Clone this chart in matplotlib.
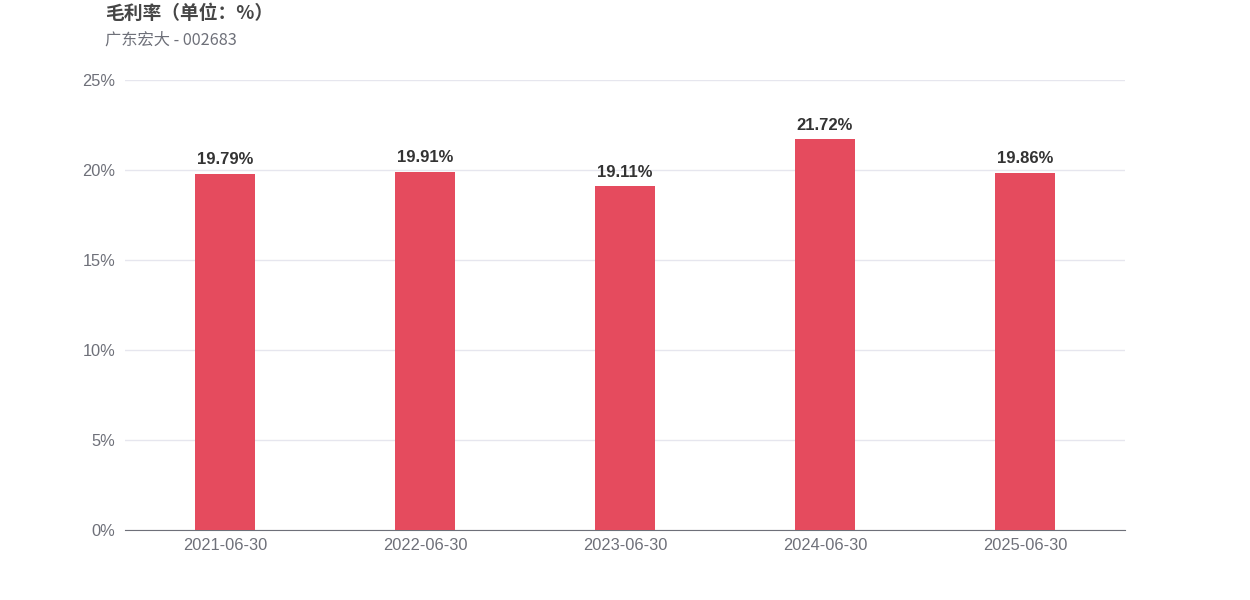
import matplotlib.pyplot as plt

plt.rcParams['font.family'] = ['Liberation Sans', 'Noto Sans CJK SC', 'DejaVu Sans']

dates = ['2021-06-30', '2022-06-30', '2023-06-30', '2024-06-30', '2025-06-30']
margin = [19.79, 19.91, 19.11, 21.72, 19.86]
yticks = [0, 5, 10, 15, 20, 25]

fig = plt.figure(figsize=(12.5, 6), dpi=100)
ax = fig.add_axes([0.1, 0.1167, 0.8, 0.75])

x = list(range(len(dates)))
ax.bar(x, margin, width=0.3, color='#E54B5E', zorder=3)
for i, v in zip(x, margin):
    ax.text(i, v + 0.35, '{:.2f}%'.format(v), ha='center', va='bottom',
            fontsize=12, fontweight='bold', color='#333333')

ax.set_xlim(-0.5, 4.5)
ax.set_ylim(0, 25)
ax.set_yticks(yticks)
ax.set_yticklabels([str(t) + '%' for t in yticks])
ax.set_xticks(x)
ax.set_xticklabels(dates)
ax.tick_params(axis='both', length=0, labelsize=11.8, labelcolor='#6E7079')
ax.tick_params(axis='y', pad=7)
ax.tick_params(axis='x', pad=6)
ax.grid(axis='y', color='#E6E6EE', linewidth=1, zorder=0)
for s in ['top', 'right', 'left']:
    ax.spines[s].set_visible(False)
ax.spines['bottom'].set_color('#6E7079')

fig.text(105 / 1250, 1 - 13 / 600, '毛利率（单位：%）', fontsize=13.5, fontweight='bold',
         color='#464646', va='center', ha='left',
         family=['Noto Sans CJK SC', 'DejaVu Sans'])
fig.text(105 / 1250, 1 - 40 / 600, '广东宏大 - 002683', fontsize=11.7,
         color='#6E7079', va='center', ha='left',
         family=['Noto Sans CJK SC', 'DejaVu Sans'])

fig.savefig('out.png', dpi=100)
